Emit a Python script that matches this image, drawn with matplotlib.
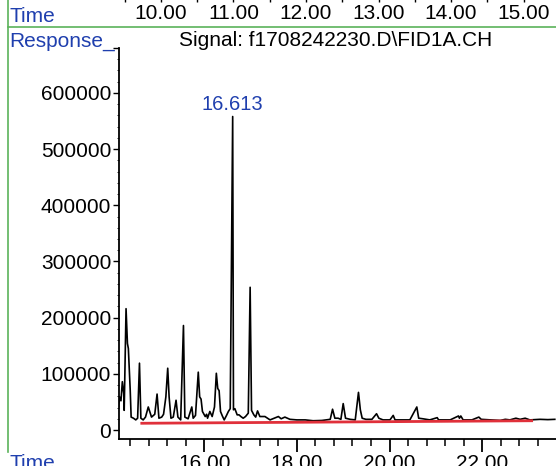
import matplotlib
matplotlib.use("Agg")
import matplotlib.pyplot as plt
from matplotlib.ticker import MultipleLocator, FixedLocator
from matplotlib.lines import Line2D

plt.rcParams['font.family'] = ['Liberation Sans', 'DejaVu Sans']

# cromatograma FID (tempo em min, resposta)
tempo = [14.15, 14.17, 14.20, 14.23, 14.26, 14.27, 14.31, 14.34, 14.36, 14.40,
         14.42, 14.47, 14.52, 14.56, 14.60, 14.63, 14.68, 14.73, 14.79, 14.81,
         14.86, 14.93, 14.98, 15.02, 15.08, 15.12, 15.17, 15.21, 15.24, 15.28,
         15.33, 15.39, 15.43, 15.49, 15.55, 15.58, 15.65, 15.73, 15.76, 15.81,
         15.87, 15.90, 15.93, 15.96, 16.02, 16.05, 16.07, 16.12, 16.17, 16.22,
         16.26, 16.29, 16.32, 16.35, 16.39, 16.43, 16.48, 16.52, 16.56, 16.613,
         16.63, 16.66, 16.71, 16.75, 16.79, 16.84, 16.89, 16.95, 16.99, 17.02,
         17.07, 17.11, 17.15, 17.20, 17.31, 17.42, 17.60, 17.66, 17.74, 17.85,
         18.00, 18.18, 18.35, 18.54, 18.72, 18.77, 18.82, 18.89, 18.95, 19.00,
         19.05, 19.15, 19.26, 19.33, 19.37, 19.41, 19.49, 19.62, 19.72, 19.77,
         19.86, 20.01, 20.08, 20.12, 20.27, 20.44, 20.59, 20.63, 20.72, 20.87,
         21.03, 21.06, 21.31, 21.49, 21.51, 21.54, 21.59, 21.78, 21.93, 21.98,
         22.17, 22.39, 22.50, 22.60, 22.73, 22.82, 22.93, 23.03, 23.25, 23.42,
         23.57]
resposta = [41000, 59000, 52000, 86000, 65000, 35000, 216000, 154000, 145000, 71000,
            23000, 21000, 18000, 21000, 119000, 21000, 18000, 23000, 41000, 36000,
            23000, 28000, 64000, 21000, 23000, 28000, 59000, 110000, 59000, 21000,
            23000, 53000, 23000, 18000, 186000, 23000, 20000, 41000, 21000, 26000,
            103000, 59000, 55000, 33000, 24000, 28000, 21000, 33000, 24000, 41000,
            101000, 74000, 70000, 33000, 25000, 18000, 26000, 33000, 38000, 558000,
            36000, 38000, 27000, 27000, 24000, 21000, 24000, 30000, 254000, 35000,
            27000, 23000, 34000, 24000, 24000, 18000, 24000, 20000, 23000, 19000,
            18000, 18000, 16500, 17000, 19000, 37000, 21000, 21000, 19000, 47000,
            21000, 19000, 18000, 67000, 36000, 21000, 19000, 19000, 29000, 21000,
            18000, 18000, 26000, 18000, 18000, 18000, 41000, 21000, 20000, 18000,
            22000, 18000, 18000, 25000, 21000, 25000, 18000, 18000, 23000, 19000,
            18000, 17000, 19000, 18000, 21000, 19000, 21000, 18000, 19000, 18500,
            19000]

# linha de base (integracao)
base_t = [14.65, 23.07]
base_r = [12000, 16500]

pico_t = 16.613
pico_r = 558000

azul = '#1f3fae'
verde = '#5bb35a'
fs = 15

fig = plt.figure(figsize=(5.56, 4.66), dpi=100)

# eixo principal
ax = fig.add_axes([118.5 / 556, 27 / 466, 437.5 / 556, 391 / 466])
ax.plot(tempo, resposta, color='black', lw=1.2)
ax.plot(base_t, base_r, color='#e0303a', lw=2.0)
ax.annotate('16.613', xy=(pico_t, pico_r), xytext=(0, 5), textcoords='offset points',
            ha='center', va='baseline', color=azul, fontsize=14.5)

ax.set_xlim(14.147, 23.596)
ax.set_ylim(-16000, 680000)
ax.spines['top'].set_visible(False)
ax.spines['right'].set_visible(False)
ax.spines['left'].set_linewidth(1.3)
ax.spines['bottom'].set_linewidth(1.3)

ax.xaxis.set_major_locator(MultipleLocator(2))
ax.xaxis.set_minor_locator(MultipleLocator(0.4))
ax.set_xticks(ax.get_xticks())
ax.set_xticklabels(['%.2f' % v for v in ax.get_xticks()])
ax.set_xlim(14.147, 23.596)
ax.tick_params(axis='x', which='major', length=9.5, width=1.3, pad=1.5, labelsize=fs)
ax.tick_params(axis='x', which='minor', length=5, width=1.1)

yt = [0, 100000, 200000, 300000, 400000, 500000, 600000, 680000]
ax.yaxis.set_major_locator(FixedLocator(yt))
ax.set_yticklabels([str(v) for v in yt[:-1]] + [''])
ax.yaxis.set_minor_locator(MultipleLocator(20000))
ax.tick_params(axis='y', which='major', length=4.3, width=1.0, pad=1, labelsize=fs)
ax.tick_params(axis='y', which='minor', length=1.8, width=0.6)

# eixo de tempo do painel anterior (cortado no topo)
ax2 = fig.add_axes([118.5 / 556, 470 / 466, 437.5 / 556, 0.01])
ax2.set_xlim(9.414, 15.448)
ax2.xaxis.set_minor_locator(MultipleLocator(0.5))
ax2.set_xticks([10, 11, 12, 13, 14, 15])
ax2.set_xticklabels(['10.00', '11.00', '12.00', '13.00', '14.00', '15.00'])
ax2.set_xlim(9.414, 15.448)
ax2.set_yticks([])
for s in ax2.spines.values():
    s.set_visible(False)
ax2.tick_params(axis='x', which='major', length=4.5, width=1.0, pad=1.5, labelsize=fs)
ax2.tick_params(axis='x', which='minor', length=4.5, width=1.0)

# molduras verdes
fig.add_artist(Line2D([8 / 556, 1], [439 / 466, 439 / 466], color=verde, lw=1.2))
fig.add_artist(Line2D([8 / 556, 8 / 556], [14 / 466, 1], color=verde, lw=1.2))

fig.text(9 / 556, (466 - 17) / 466, 'Time', color=azul, fontsize=fs, va='center')
fig.text(9 / 556, (466 - 47) / 466, 'Response_', color=azul, fontsize=fs, va='baseline')
fig.text(335.5 / 556, (466 - 46) / 466, 'Signal: f1708242230.D\\FID1A.CH',
         color='black', fontsize=fs, ha='center', va='baseline')
fig.text(9 / 556, (466 - 454) / 466, 'Time', color=azul, fontsize=fs, va='top')

fig.savefig('out.png', dpi=100)
